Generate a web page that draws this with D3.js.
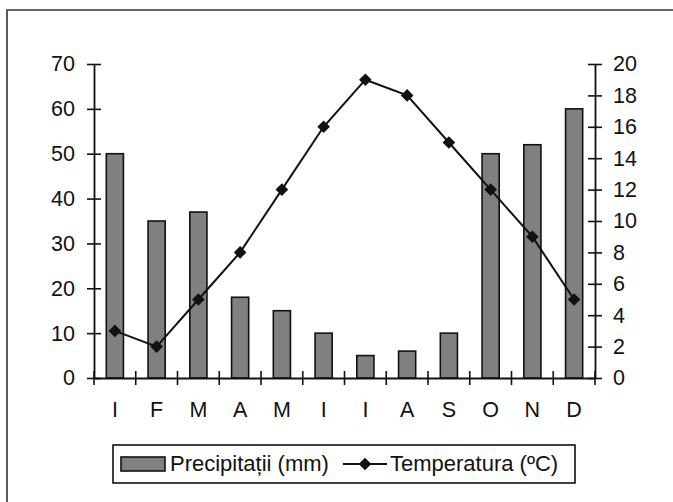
<!DOCTYPE html>
<html>
<head>
<meta charset="utf-8">
<script src="https://cdn.jsdelivr.net/npm/d3@7"></script>
<style>
  body { margin: 0; background: #fff; }
  text { font-family: "Liberation Sans", Arial, sans-serif; fill: #111; }
</style>
</head>
<body>
<svg id="canvas"></svg>
<script>
let months = ["I", "F", "M", "A", "M", "I", "I", "A", "S", "O", "N", "D"]
let precip = [50, 35, 37, 18, 15, 10, 5, 6, 10, 50, 52, 60]
let temp = [3, 2, 5, 8, 12, 16, 19, 18, 15, 12, 9, 5]
let precipTicks = [0, 10, 20, 30, 40, 50, 60, 70]
let tempTicks = [0, 2, 4, 6, 8, 10, 12, 14, 16, 18, 20]

let width = 673
let height = 502
let plotLeft = 94
let plotRight = 595
let plotTop = 64
let plotBottom = 378
let fontSize = "21.5px"

let canvas = d3.select("#canvas")
    .attr("width", width)
    .attr("height", height)

// outer frame
canvas.append("path")
    .attr("d", "M7," + height + " V10 H" + width)
    .attr("fill", "none")
    .attr("stroke", "#333")
    .attr("stroke-width", 1.6)

let xScale = d3.scaleBand()
    .domain(d3.range(months.length))
    .range([plotLeft, plotRight])
    .padding(0)

let yLeft = d3.scaleLinear().domain([0, 70]).range([plotBottom, plotTop])
let yRight = d3.scaleLinear().domain([0, 20]).range([plotBottom, plotTop])

// bars
let barW = xScale.bandwidth() * 0.41
canvas.selectAll("rect.bar")
    .data(precip)
    .enter()
    .append("rect")
    .attr("class", "bar")
    .attr("x", (d, i) => xScale(i) + xScale.bandwidth() / 2 - barW / 2)
    .attr("y", d => yLeft(d))
    .attr("width", barW)
    .attr("height", d => plotBottom - yLeft(d))
    .attr("fill", "#808080")
    .attr("stroke", "#111")
    .attr("stroke-width", 1.6)

// axes
let styleAxis = g => {
    g.select(".domain").attr("stroke", "#111").attr("stroke-width", 1.8)
    g.selectAll(".tick line").attr("stroke", "#111").attr("stroke-width", 1.6)
    g.selectAll("text").style("font-size", fontSize).attr("fill", "#111")
}

let leftAxis = d3.axisLeft(yLeft).tickValues(precipTicks).tickSize(7).tickSizeOuter(0).tickPadding(12)
canvas.append("g")
    .attr("transform", "translate(" + plotLeft + ",0)")
    .call(leftAxis)
    .call(g => { styleAxis(g); g.selectAll(".tick line").attr("x1", 7) })

let rightAxis = d3.axisRight(yRight).tickValues(tempTicks).tickSize(7).tickSizeOuter(0).tickPadding(11)
canvas.append("g")
    .attr("transform", "translate(" + plotRight + ",0)")
    .call(rightAxis)
    .call(g => { styleAxis(g); g.selectAll(".tick line").attr("x1", -7) })

let xAxis = d3.axisBottom(xScale).tickFormat(i => months[i]).tickSize(0).tickSizeOuter(0).tickPadding(24)
canvas.append("g")
    .attr("transform", "translate(0," + plotBottom + ")")
    .call(xAxis)
    .call(g => styleAxis(g))

// category boundary ticks
canvas.selectAll("line.xtick")
    .data(d3.range(months.length + 1))
    .enter()
    .append("line")
    .attr("class", "xtick")
    .attr("x1", i => plotLeft + i * xScale.step())
    .attr("x2", i => plotLeft + i * xScale.step())
    .attr("y1", plotBottom - 7)
    .attr("y2", plotBottom + 7)
    .attr("stroke", "#111")
    .attr("stroke-width", 1.6)

// temperature line
let line = d3.line()
    .x((d, i) => xScale(i) + xScale.bandwidth() / 2)
    .y(d => yRight(d))

canvas.append("path")
    .datum(temp)
    .attr("d", line)
    .attr("fill", "none")
    .attr("stroke", "#111")
    .attr("stroke-width", 2)

let diamond = d3.symbol().type(d3.symbolSquare).size(80)
canvas.selectAll("path.marker")
    .data(temp)
    .enter()
    .append("path")
    .attr("class", "marker")
    .attr("d", diamond)
    .attr("transform", (d, i) => "translate(" + (xScale(i) + xScale.bandwidth() / 2) + "," + yRight(d) + ") rotate(45)")
    .attr("fill", "#111")

// legend
let legend = canvas.append("g")
legend.append("rect")
    .attr("x", 113).attr("y", 445).attr("width", 462).attr("height", 38)
    .attr("fill", "#fff").attr("stroke", "#111").attr("stroke-width", 1.6)
legend.append("rect")
    .attr("x", 121).attr("y", 457).attr("width", 44).attr("height", 14)
    .attr("fill", "#808080").attr("stroke", "#111").attr("stroke-width", 1.6)
legend.append("text")
    .attr("x", 170).attr("y", 471)
    .style("font-size", "22px")
    .text("Precipitații (mm)")
legend.append("line")
    .attr("x1", 343).attr("x2", 387).attr("y1", 464).attr("y2", 464)
    .attr("stroke", "#111").attr("stroke-width", 2)
legend.append("path")
    .attr("d", diamond)
    .attr("transform", "translate(365,464) rotate(45)")
    .attr("fill", "#111")
legend.append("text")
    .attr("x", 390).attr("y", 471)
    .style("font-size", "22px")
    .text("Temperatura (ºC)")
</script>
</body>
</html>
